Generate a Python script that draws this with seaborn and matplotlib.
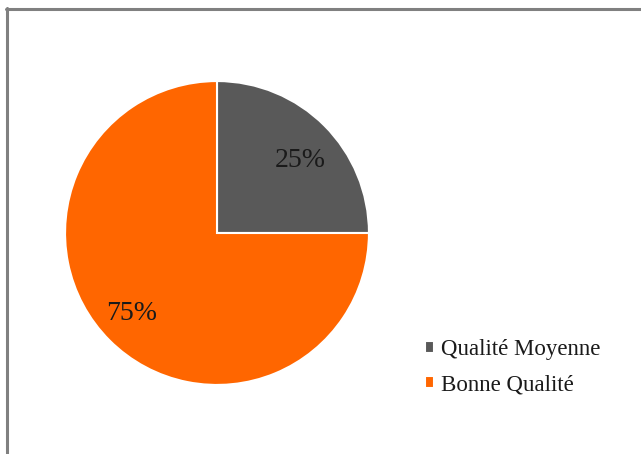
import matplotlib
matplotlib.use("Agg")
import matplotlib.pyplot as plt
from matplotlib.lines import Line2D
import seaborn as sns

# Répartition de la qualité
categories = ["Qualité Moyenne", "Bonne Qualité"]
parts = [25, 75]
colors = ["#595959", "#FF6600"]

sns.set_theme(style="white")
plt.rcParams["font.family"] = ["Liberation Serif", "DejaVu Serif"]

W, H = 641, 454
fig = plt.figure(figsize=(W / 100, H / 100), dpi=100)
fig.patch.set_facecolor("white")

cx, cy, r = 217, 233, 155
ax = fig.add_axes([(cx - r) / W, (H - cy - r) / H, 2 * r / W, 2 * r / H])

wedges, texts, autotexts = ax.pie(
    parts,
    colors=colors,
    startangle=90,
    counterclock=False,
    autopct=lambda p: f"{p:.0f}%",
    pctdistance=0.75,
    wedgeprops=dict(edgecolor="white", linewidth=1.5),
    textprops=dict(fontsize=20, color="#1a1a1a"),
)
# Étiquettes de pourcentage placées comme dans un graphique Excel
autotexts[0].set_position((0.55, 0.48))
autotexts[1].set_position((-0.56, -0.53))

ax.set_xlim(-1.02, 1.02)
ax.set_ylim(-1.02, 1.02)
ax.set_aspect("equal")
ax.axis("off")

fig.legend(
    wedges,
    categories,
    loc="upper left",
    bbox_to_anchor=(425 / W, 1 - 339 / H),
    frameon=False,
    fontsize=16.5,
    handlelength=0.4,
    handleheight=0.4,
    handletextpad=0.3,
    labelspacing=0.62,
    borderpad=0,
    borderaxespad=0,
    labelcolor="#1a1a1a",
)

# Cadre gris (gauche et haut)
fig.add_artist(Line2D([7 / W, 7 / W], [0, 1 - 8 / H], transform=fig.transFigure,
                      color="#808080", linewidth=2.2))
fig.add_artist(Line2D([6 / W, 1], [1 - 9 / H, 1 - 9 / H], transform=fig.transFigure,
                      color="#808080", linewidth=2.2))

fig.savefig("out.png", dpi=100, facecolor="white")
